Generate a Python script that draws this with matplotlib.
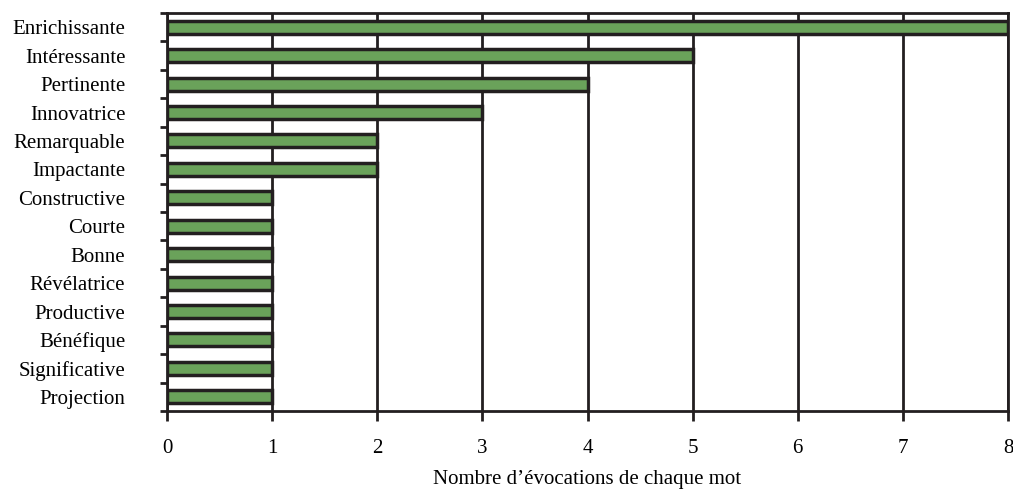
import matplotlib
matplotlib.use("Agg")
import matplotlib.pyplot as plt
import numpy as np

categories = ["Enrichissante", "Intéressante", "Pertinente", "Innovatrice", "Remarquable",
              "Impactante", "Constructive", "Courte", "Bonne", "Révélatrice", "Productive",
              "Bénéfique", "Significative", "Projection"]
values = [8, 5, 4, 3, 2, 2, 1, 1, 1, 1, 1, 1, 1, 1]
xticks = [0, 1, 2, 3, 4, 5, 6, 7, 8]

plt.rcParams['font.family'] = ['Liberation Serif', 'DejaVu Serif']

fig = plt.figure(figsize=(10.13, 4.92), dpi=100)
ax = fig.add_axes([167/1013, 1-411/492, (1008-167)/1013, (411-13)/492])

ink = '#231f20'
n = len(categories)
ypos = np.arange(n)
ax.barh(ypos, values, height=0.46, color='#6aa25a', edgecolor=ink, linewidth=2.5, zorder=3)

ax.set_xlim(0, 8)
ax.set_ylim(n - 0.5, -0.5)
ax.set_xticks(xticks)
ax.set_xticklabels([str(v) for v in xticks], fontsize=15)
ax.set_yticks(ypos)
ax.set_yticklabels(categories, fontsize=15)
ax.tick_params(axis='y', which='major', length=0, pad=30)
ax.set_yticks(np.arange(-0.5, n, 1), minor=True)
ax.tick_params(axis='y', which='minor', length=5, width=2, color=ink, direction='out')
ax.tick_params(axis='x', length=7, width=2, color=ink, direction='out', pad=13)

ax.grid(axis='x', color=ink, linewidth=2, zorder=1)
for s in ax.spines.values():
    s.set_linewidth(2)
    s.set_color(ink)
ax.spines['right'].set_zorder(4)

ax.set_xlabel("Nombre d’évocations de chaque mot", fontsize=15, labelpad=9)

fig.savefig("out.png", dpi=100)
